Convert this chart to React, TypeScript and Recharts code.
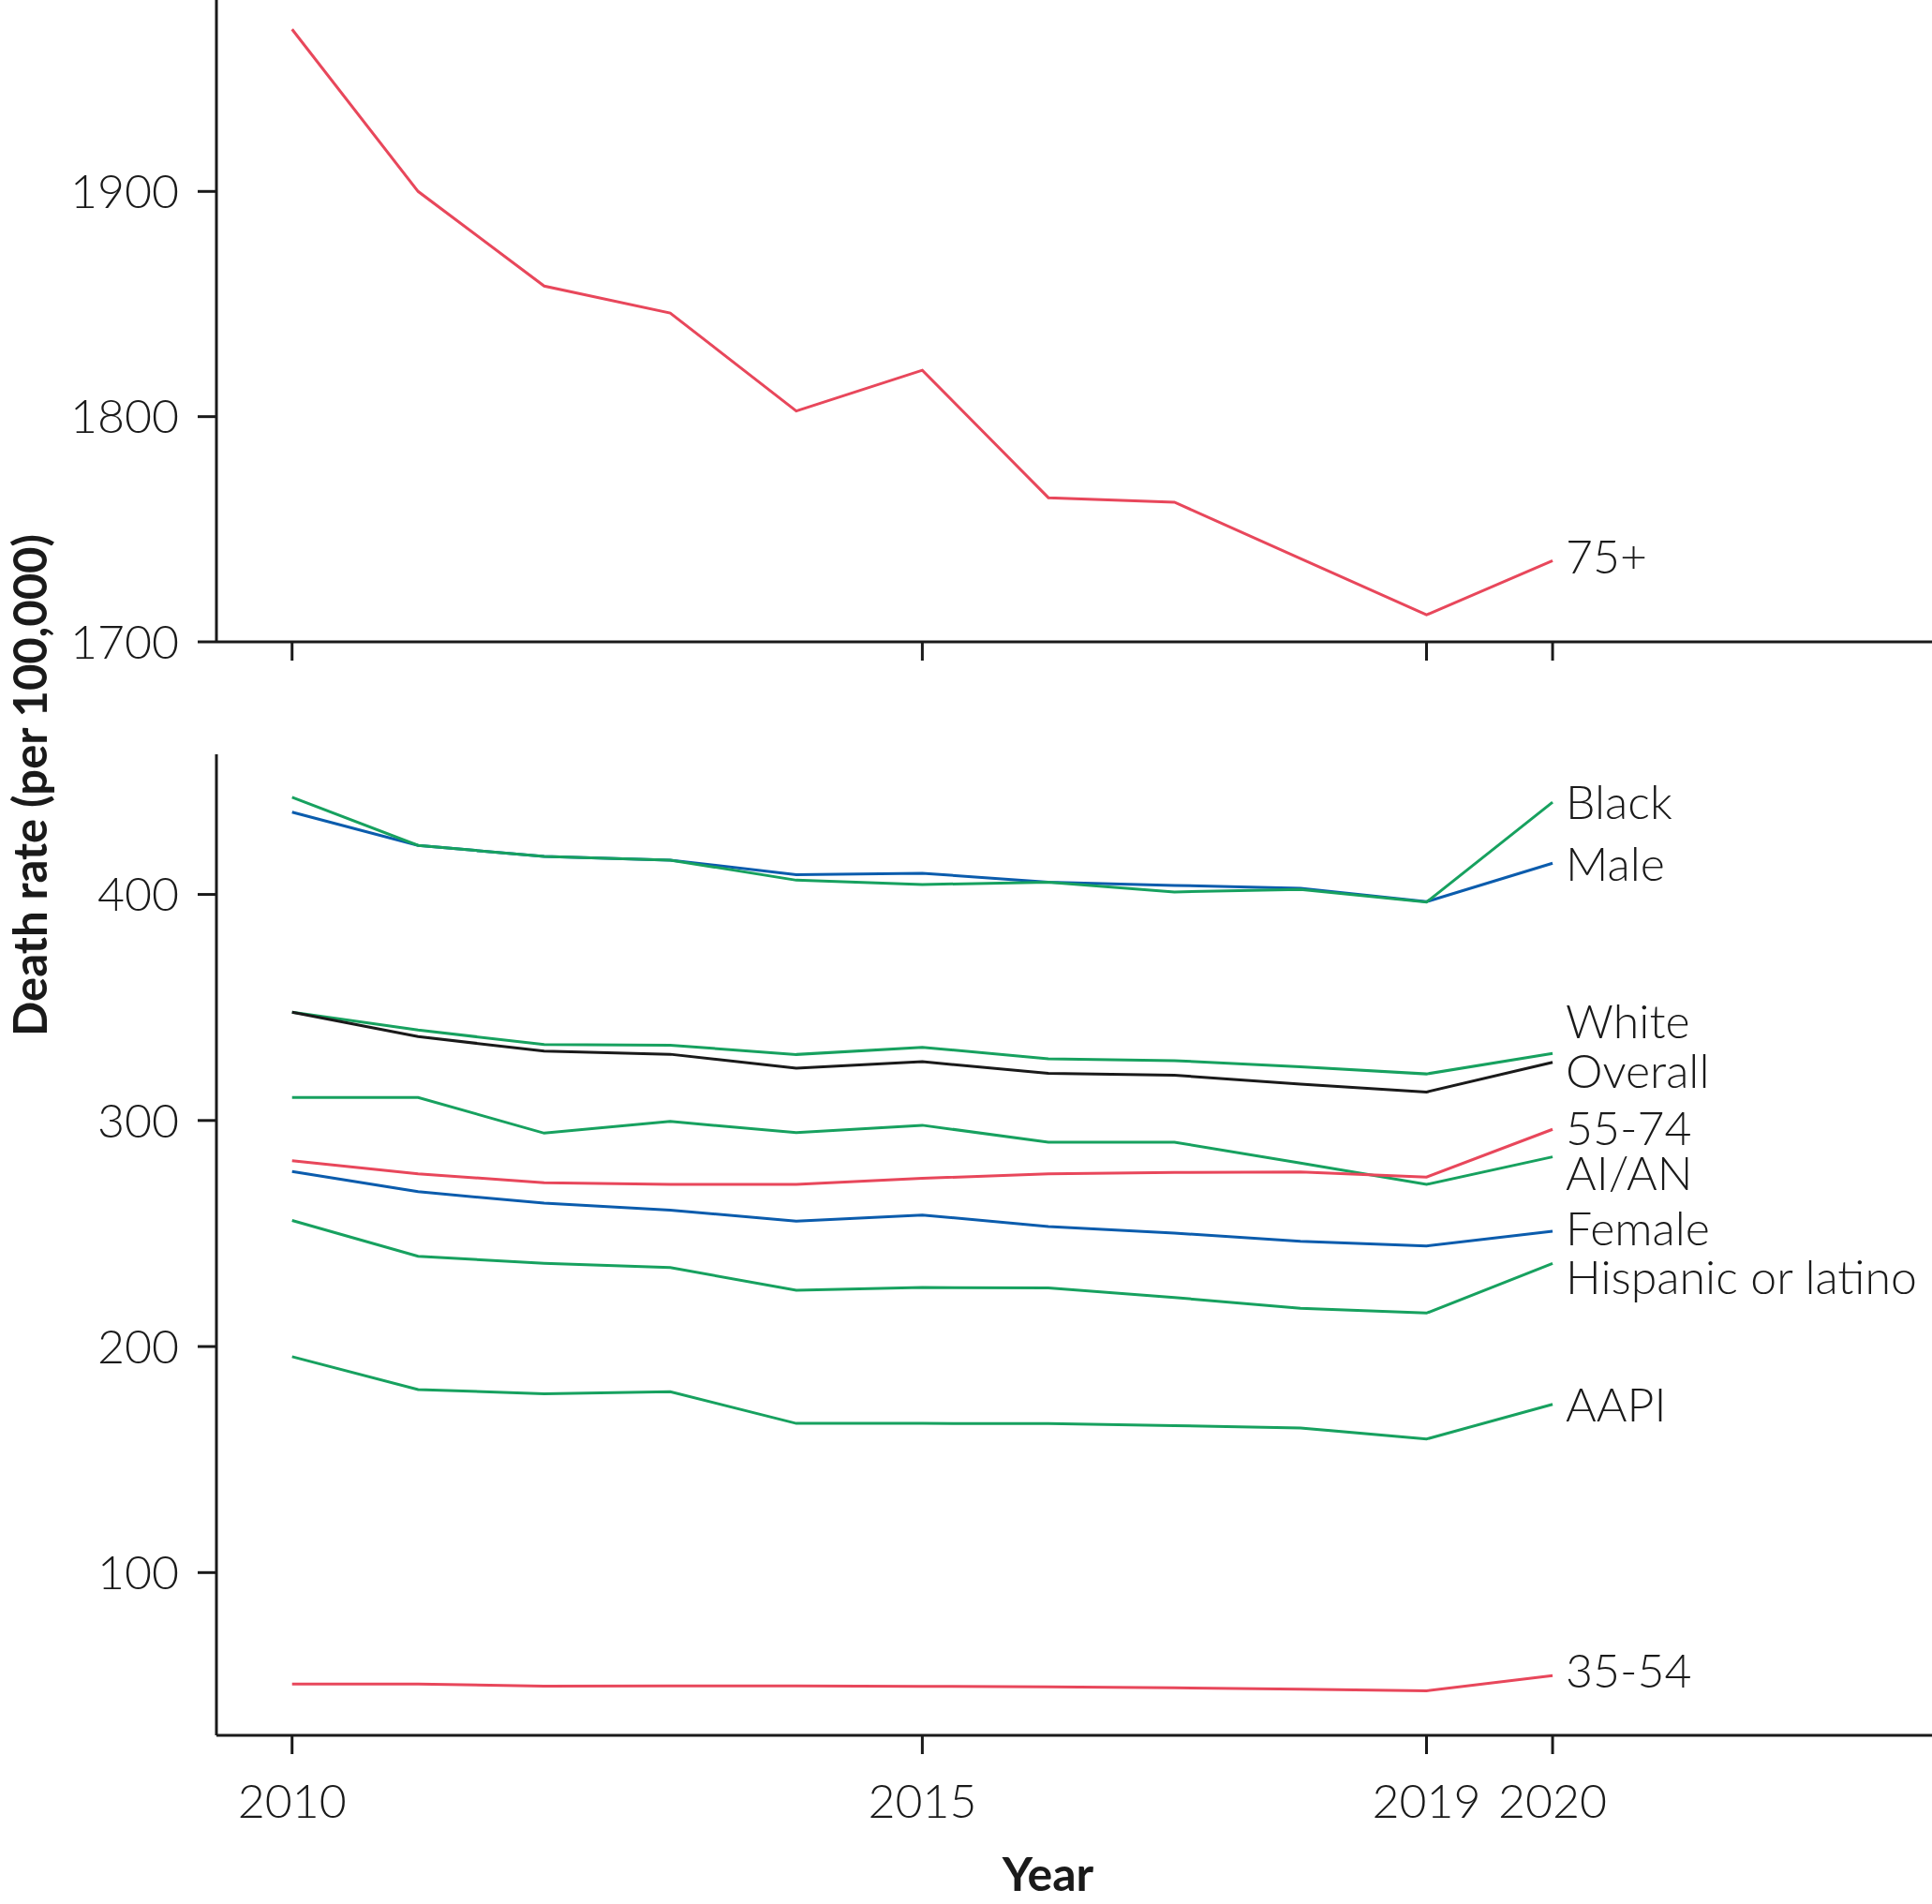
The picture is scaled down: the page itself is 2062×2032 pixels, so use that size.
import React from 'react';
import { LineChart, Line, XAxis, YAxis, LabelList, Label } from 'recharts';

const years = [2010, 2011, 2012, 2013, 2014, 2015, 2016, 2017, 2018, 2019, 2020];
const xTicks = [2010, 2015, 2019, 2020];
const topTicks = [1700, 1800, 1900];
const bottomTicks = [100, 200, 300, 400];

const age75 = [1972, 1900, 1858, 1846, 1802.5, 1820.6, 1764, 1762, 1737, 1712, 1736];
const black = [443, 421.7, 416.8, 415.2, 406.3, 404.4, 405.4, 401.1, 402.2, 396.6, 440.8];
const male = [436.4, 421.7, 416.8, 415.2, 408.7, 409.4, 405.4, 404, 402.7, 396.8, 413.8];
const white = [347.9, 340, 333.6, 333.3, 329.2, 332.4, 327.3, 326.5, 323.8, 320.6, 329.7];
const overall = [347.9, 337.1, 330.7, 329.3, 323.1, 326, 320.9, 320, 316.1, 312.6, 325.7];
const aian = [310.2, 310.2, 294.4, 299.6, 294.6, 297.9, 290.4, 290.4, 281.2, 271.7, 283.9];
const age5574 = [282.2, 276.4, 272.5, 271.7, 271.7, 274.4, 276.4, 277, 277.2, 275, 296.1];
const female = [277.4, 268.5, 263.4, 260.3, 255.5, 258.2, 253.1, 250.2, 246.6, 244.5, 251];
const hispanic = [255.8, 239.9, 236.8, 234.9, 224.9, 226.1, 225.9, 221.7, 216.9, 214.8, 236.8];
const aapi = [195.5, 181, 179.1, 180, 166, 166, 165.9, 165, 164, 159.1, 174.4];
const age3554 = [50.7, 50.7, 49.8, 49.9, 49.9, 49.7, 49.4, 49, 48.4, 47.7, 54.4];

const RED = '#E8475B';
const GREEN = '#17A15F';
const BLUE = '#0B5CAD';
const INK = '#1a1a1a';
const FONT = 'Lato, "Open Sans", sans-serif';

const topData = years.map((year, i) => ({ year, age75: age75[i] }));
const bottomData = years.map((year, i) => ({
  year,
  black: black[i],
  male: male[i],
  white: white[i],
  overall: overall[i],
  aian: aian[i],
  age5574: age5574[i],
  female: female[i],
  hispanic: hispanic[i],
  aapi: aapi[i],
  age3554: age3554[i],
}));

const bottomSeries = [
  { key: 'male', name: 'Male', color: BLUE, dy: 1 },
  { key: 'black', name: 'Black', color: GREEN, dy: 0 },
  { key: 'white', name: 'White', color: GREEN, dy: -34 },
  { key: 'overall', name: 'Overall', color: INK, dy: 9 },
  { key: 'aian', name: 'AI/AN', color: GREEN, dy: 17 },
  { key: 'age5574', name: '55-74', color: RED, dy: -1 },
  { key: 'female', name: 'Female', color: BLUE, dy: -3 },
  { key: 'hispanic', name: 'Hispanic or latino', color: GREEN, dy: 15 },
  { key: 'aapi', name: 'AAPI', color: GREEN, dy: 0 },
  { key: 'age3554', name: '35-54', color: RED, dy: -5 },
];

const LAST = years.length - 1;
const X_DOMAIN = [2009.4, 2023.01];

function makeEndLabel(text: string, dy: number) {
  return (props: any) => {
    const { x, y, index } = props;
    if (index !== LAST) return null;
    return (
      <text
        x={Number(x) + 14}
        y={Number(y) + dy}
        dy="0.36em"
        fontFamily={FONT}
        fontWeight={300}
        fontSize={50}
        fill={INK}
        textAnchor="start"
      >
        {text}
      </text>
    );
  };
}

const EmptyTick = () => null;

const axisStroke = { stroke: INK, strokeWidth: 3 };
const tickStyle = { fontFamily: FONT, fontWeight: 300, fontSize: 50, fill: INK };

export default function App() {
  return (
    <div style={{ position: 'absolute', left: 0, top: 0, width: 2062, height: 2032, background: '#fff' }}>
      <LineChart width={2062} height={760} data={topData} margin={{ top: 0, right: 0, bottom: 0, left: 0 }}>
        <XAxis
          dataKey="year"
          type="number"
          domain={X_DOMAIN}
          allowDataOverflow
          ticks={xTicks}
          interval={0}
          height={75}
          axisLine={axisStroke}
          tickLine={axisStroke}
          tickSize={20}
          tick={EmptyTick}
        />
        <YAxis
          type="number"
          domain={[1700, 1985]}
          allowDataOverflow
          ticks={topTicks}
          interval={0}
          width={231}
          axisLine={axisStroke}
          tickLine={axisStroke}
          tickSize={20}
          tickMargin={20}
          tick={tickStyle}
        />
        <Line
          dataKey="age75"
          stroke={RED}
          strokeWidth={3}
          dot={false}
          type="linear"
          isAnimationActive={false}
        >
          <LabelList dataKey="age75" content={makeEndLabel('75+', -4)} />
        </Line>
      </LineChart>
      <LineChart width={2062} height={1272} data={bottomData} margin={{ top: 45, right: 0, bottom: 0, left: 0 }}>
        <XAxis
          dataKey="year"
          type="number"
          domain={X_DOMAIN}
          allowDataOverflow
          ticks={xTicks}
          interval={0}
          height={180}
          axisLine={axisStroke}
          tickLine={axisStroke}
          tickSize={20}
          tickMargin={32}
          tick={tickStyle}
        >
          <Label
            value="Year"
            position="insideBottom"
            offset={14}
            dx={-28}
            style={{ fontFamily: FONT, fontWeight: 700, fontSize: 50, fill: INK }}
          />
        </XAxis>
        <YAxis
          type="number"
          domain={[28, 462]}
          allowDataOverflow
          ticks={bottomTicks}
          interval={0}
          width={231}
          axisLine={axisStroke}
          tickLine={axisStroke}
          tickSize={20}
          tickMargin={20}
          tick={tickStyle}
        />
        {bottomSeries.map((s) => (
          <Line
            key={s.key}
            dataKey={s.key}
            stroke={s.color}
            strokeWidth={3}
            dot={false}
            type="linear"
            isAnimationActive={false}
          >
            <LabelList dataKey={s.key} content={makeEndLabel(s.name, s.dy)} />
          </Line>
        ))}
      </LineChart>
      <svg
        width={2062}
        height={2032}
        style={{ position: 'absolute', left: 0, top: 0, pointerEvents: 'none' }}
      >
        <text
          x={32}
          y={838}
          dy="0.36em"
          transform="rotate(-90, 32, 838)"
          textAnchor="middle"
          fontFamily={FONT}
          fontWeight={700}
          fontSize={49}
          fill={INK}
        >
          Death rate (per 100,000)
        </text>
      </svg>
    </div>
  );
}
